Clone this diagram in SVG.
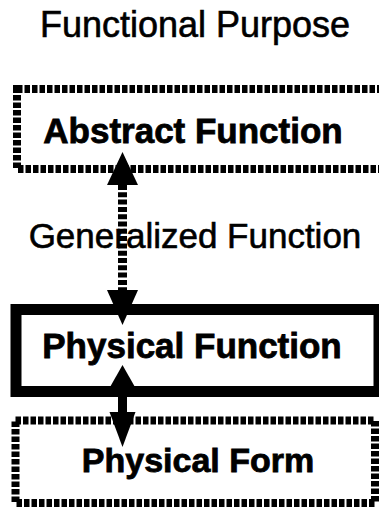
<svg xmlns="http://www.w3.org/2000/svg" width="379" height="507" viewBox="0 0 379 507">
  <style>
    .label { font-family: "Liberation Sans", Arial, Helvetica, sans-serif; fill: #000; stroke: #000; stroke-width: 0.6; text-anchor: middle; }
    .bold { font-weight: bold; stroke-width: 0.8; }
    .dashed-box { fill: none; stroke: #000; stroke-width: 8; stroke-dasharray: 5.5 2; }
    .solid-box { fill: none; stroke: #000; stroke-width: 11; }
    .shaft-dashed { stroke: #000; stroke-width: 9; stroke-dasharray: 5 2.3; fill: none; }
    .shaft-solid { stroke: #000; stroke-width: 9; fill: none; }
    .head { fill: #000; }
  </style>

  <rect width="379" height="507" fill="#fff"/>

  <!-- top level, unboxed -->
  <g id="functional-purpose">
    <text class="label" x="195" y="37" font-size="36">Functional Purpose</text>
  </g>

  <!-- abstract function: dotted frame running off the right edge -->
  <g id="abstract-function">
    <rect class="dashed-box" x="17" y="89" width="372" height="80"/>
    <text class="label bold" x="193" y="143" font-size="35">Abstract Function</text>
  </g>

  <!-- generalized function, unboxed -->
  <g id="generalized-function">
    <text class="label" x="195" y="248" font-size="35">Generalized Function</text>
  </g>

  <!-- physical function: heavy solid frame -->
  <g id="physical-function">
    <rect class="solid-box" x="16" y="309.5" width="363" height="82"/>
    <text class="label bold" x="192" y="358" font-size="35">Physical Function</text>
  </g>

  <!-- physical form: dotted frame -->
  <g id="physical-form">
    <rect class="dashed-box" x="15.5" y="420.5" width="359.5" height="82.5"/>
    <text class="label bold" x="198" y="472" font-size="34">Physical Form</text>
  </g>

  <!-- connectors -->
  <g id="connectors">
    <!-- abstract <-> physical function, dashed double-headed -->
    <line class="shaft-dashed" x1="122.5" y1="185" x2="122.5" y2="290"/>
    <polygon class="head" points="122.5,152 107,185 138,185"/>
    <polygon class="head" points="107,290 138,290 122.5,325"/>

    <!-- physical function <-> physical form, solid double-headed -->
    <line class="shaft-solid" x1="122.5" y1="388" x2="122.5" y2="412"/>
    <polygon class="head" points="122.5,365 109.5,388 135.5,388"/>
    <polygon class="head" points="109.5,412 135.5,412 122.5,447"/>
  </g>
</svg>
